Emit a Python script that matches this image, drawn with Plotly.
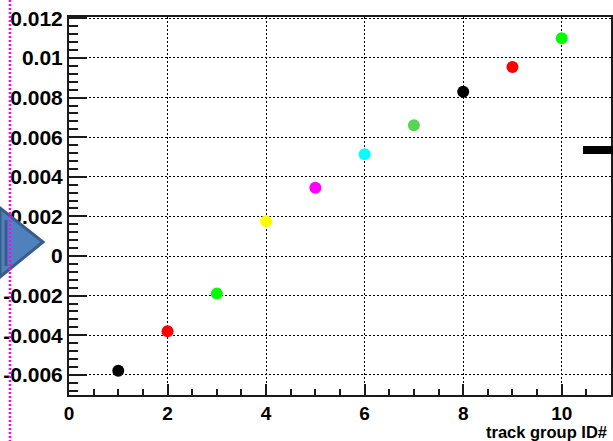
import plotly.graph_objects as go

# Track-group offsets
group_id = [1, 2, 3, 4, 5, 6, 7, 8, 9, 10]
offset = [-0.0058, -0.0038, -0.0019, 0.00175, 0.00345, 0.00514, 0.0066, 0.0083, 0.00955, 0.0110]
marker_colors = ["#000000", "#ff0000", "#00ff00", "#ffff00", "#ff00ff",
                 "#00ffff", "#59d454", "#000000", "#ff0000", "#00ff00"]

x_ticks = [0, 2, 4, 6, 8, 10]
y_ticks = [-0.006, -0.004, -0.002, 0, 0.002, 0.004, 0.006, 0.008, 0.01, 0.012]
y_tick_text = ["-0.006", "-0.004", "-0.002", "0", "0.002", "0.004",
               "0.006", "0.008", "0.01", "0.012"]
x_title = "track group ID#"

W, H = 613, 441
L, R, T, B = 69, 2, 17, 46
pw, ph = W - L - R, H - T - B


def px(x):
    return (x - L) / pw


def py(y):
    return (H - B - y) / ph


def bold(size):
    return dict(family="Liberation Sans, Arial, sans-serif", size=size, color="#000000", weight="bold")


fig = go.Figure()
fig.add_trace(go.Scatter(
    x=group_id, y=offset, mode="markers",
    marker=dict(size=12, color=marker_colors, line=dict(width=0)),
    showlegend=False, hoverinfo="x+y",
))

axis_common = dict(
    showline=True, linecolor="#1a1a1a", linewidth=2, mirror=True,
    ticks="inside", tickcolor="#1a1a1a", tickwidth=2,
    showgrid=True, gridcolor="#000000", gridwidth=1, griddash="2px,2px",
    zeroline=False, automargin=False,
)

fig.update_xaxes(
    range=[0, 11], tickvals=x_ticks, ticktext=[str(v) for v in x_ticks],
    ticklen=11, ticklabelstandoff=0, tickfont=bold(19),
    minor=dict(ticks="inside", ticklen=6, dtick=0.5, tickcolor="#1a1a1a", tickwidth=1.5, showgrid=False),
    **axis_common,
)
fig.update_yaxes(
    range=[-0.00702, 0.01207], tickvals=y_ticks, ticktext=y_tick_text,
    ticklen=18, ticklabelstandoff=0, tickfont=bold(21),
    minor=dict(ticks="inside", ticklen=9, dtick=0.0004, tickcolor="#1a1a1a", tickwidth=1.5, showgrid=False),
    **axis_common,
)

shapes = [
    # block arrow on the left
    dict(type="path", xref="paper", yref="paper",
         path=f"M {px(0)},{py(208)} L {px(43)},{py(242)} L {px(0)},{py(277)} Z",
         fillcolor="#4f81bd", line=dict(color="#385d8a", width=3), layer="above"),
    dict(type="line", xref="paper", yref="paper",
         x0=px(6), x1=px(6), y0=py(220), y1=py(266),
         line=dict(color="#385d8a", width=3), layer="above"),
    # dotted magenta guide
    dict(type="line", xref="paper", yref="paper",
         x0=px(10), x1=px(10), y0=py(0), y1=py(441),
         line=dict(color="#ff00ff", width=2.5, dash="2px,2px"), layer="above"),
    # black dash at right edge
    dict(type="rect", xref="paper", yref="paper",
         x0=px(583), x1=px(614), y0=py(154), y1=py(146),
         fillcolor="#000000", line=dict(width=0), layer="above"),
]

fig.update_layout(
    width=W, height=H,
    margin=dict(l=L, r=R, t=T, b=B, pad=0, autoexpand=False),
    paper_bgcolor="#ffffff", plot_bgcolor="#ffffff",
    shapes=shapes,
    annotations=[dict(
        text=x_title, xref="paper", yref="paper",
        x=px(609), y=py(432), xanchor="right", yanchor="middle",
        showarrow=False, font=bold(16.5),
    )],
)

fig.write_html("out.html")
